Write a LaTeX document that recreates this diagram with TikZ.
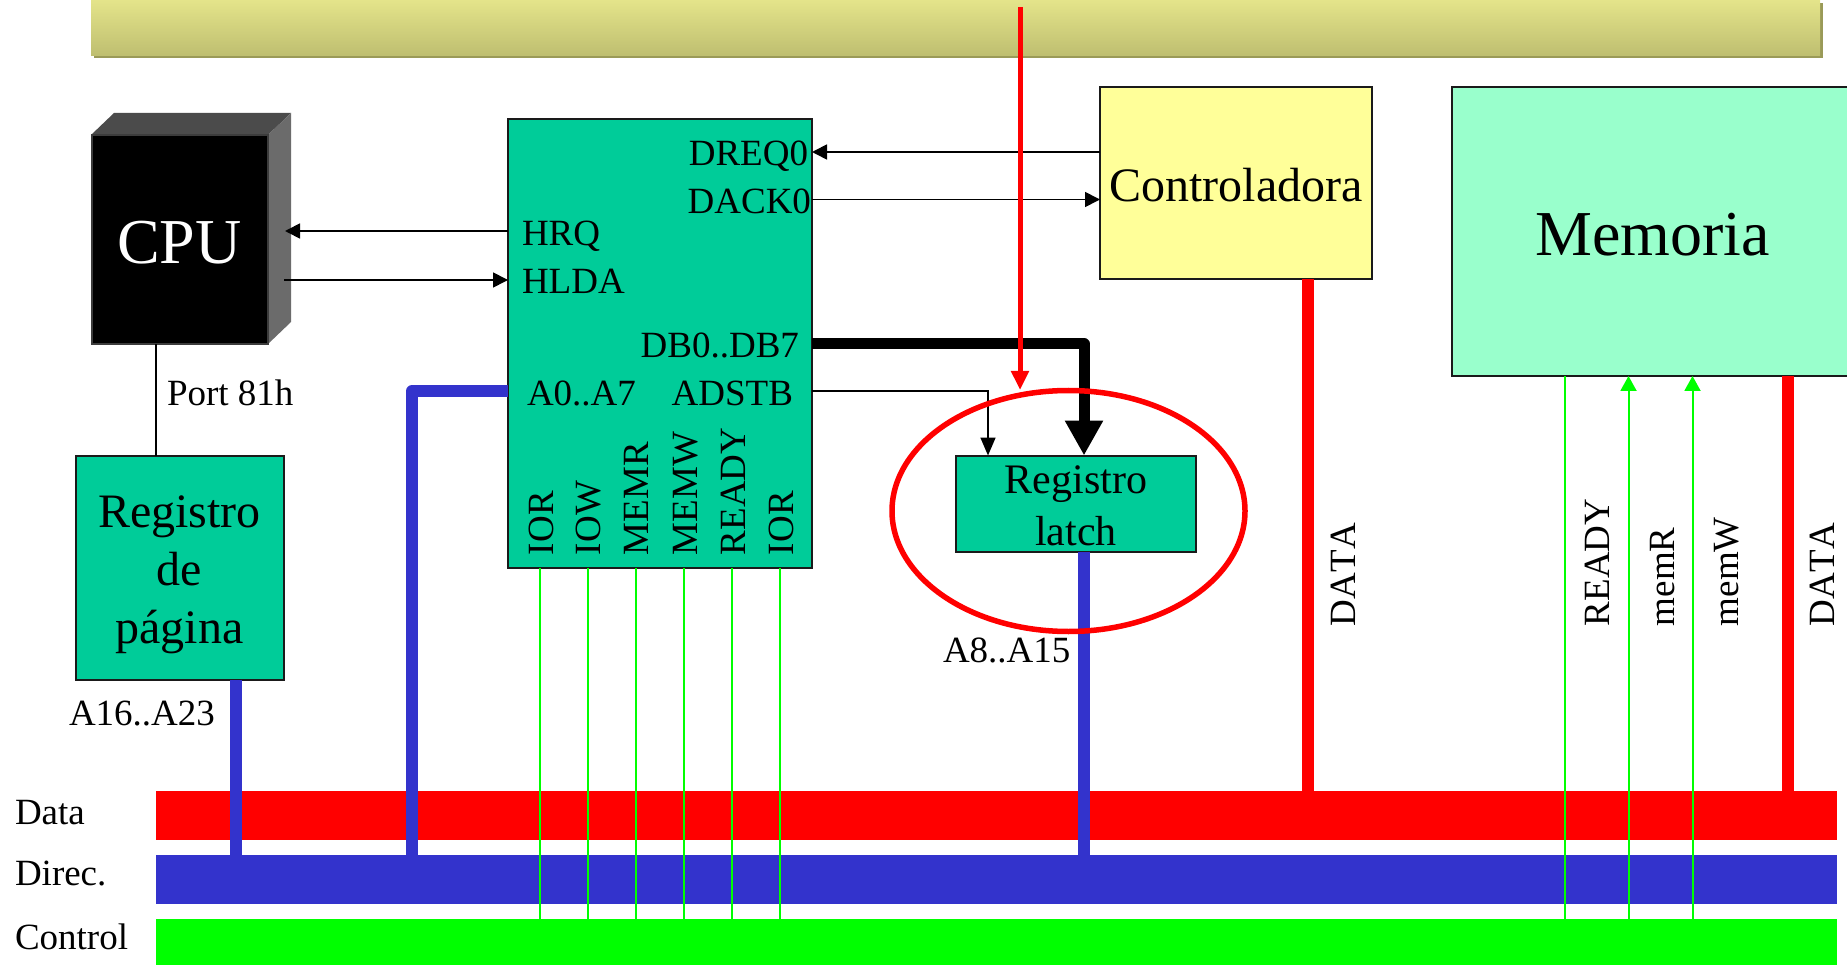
\documentclass[tikz,border=0pt]{standalone}
\usepackage{fontspec}
\setmainfont[Kerning=Off]{Liberation Serif}
\usetikzlibrary{arrows.meta,shapes.geometric}
\definecolor{teal1}{HTML}{00CC99}
\definecolor{yel1}{HTML}{FFFF99}
\definecolor{mem1}{HTML}{99FFCC}
\definecolor{blue1}{HTML}{3333CC}
\definecolor{edge1}{HTML}{1A1A1A}
\tikzset{
  plain/.style={inner sep=0pt,outer sep=0pt,minimum size=0pt},
  fs/.style={font=\fontsize{#1}{#1}\selectfont},
  boxed/.style={plain,draw=edge1,line width=2pt,align=center},
  lbl/.style={plain,fs=37,anchor=base west},
  lblr/.style={plain,fs=37,anchor=base east},
  vlbl/.style={plain,fs=37,anchor=base west,rotate=90},
  busbar/.style={plain},
  thin1/.style={line width=1.7pt,draw=black,-{Triangle[length=15pt,width=15pt]}},
  thinline/.style={line width=1.7pt,draw=black},
  gline/.style={line width=2pt,draw=green},
  garrow/.style={line width=2pt,draw=green,-{Triangle[length=15pt,width=16pt,fill=green]}},
  blueb/.style={line width=12pt,draw=blue1,line join=round},
  redb/.style={line width=12pt,draw=red},
}
\begin{document}
\begin{tikzpicture}[x=1pt,y=-1pt]
\useasboundingbox (0,0) rectangle (1847,965);
% top bar
\fill[color={rgb,255:red,154;green,154;blue,88}] (94,3) rectangle (1823,58);
\node[plain,minimum width=1729pt,minimum height=56pt,top color={rgb,255:red,228;green,228;blue,138},bottom color={rgb,255:red,190;green,190;blue,112}] (bar) at (955.5,28) {};
% buses
\node[busbar,fill=red,minimum width=1681pt,minimum height=49pt] (busD) at (996.5,815.5) {};
\node[busbar,fill=blue1,minimum width=1681pt,minimum height=49pt] (busA) at (996.5,879.5) {};
\node[busbar,fill=green,minimum width=1681pt,minimum height=46pt] (busC) at (996.5,942) {};
\node[lbl] (tData) at (15,824) {Data};
\node[lbl] (tDirec) at (15,885) {Direc.};
\node[lbl] (tControl) at (15,949) {Control};
% CPU
\fill[color={rgb,255:red,75;green,75;blue,75}] (91,135) -- (114,113) -- (291,113) -- (268,135) -- cycle;
\fill[color={rgb,255:red,107;green,107;blue,107}] (268,135) -- (291,113) -- (291,322) -- (268,344) -- cycle;
\node[plain,fill=black,draw={rgb,255:red,60;green,60;blue,60},line width=2pt,text=white,fs=64,minimum width=176pt,text height=129pt,text depth=80pt] (cpu) at (179.5,239.5) {CPU};
% boxes
\node[boxed,fill=teal1,minimum width=304pt,minimum height=449pt] (dma) at (660,343.5) {};
\node[boxed,fill=yel1,fs=48,minimum width=272pt,text height=115pt,text depth=77pt] (ctrl) at (1236,183) {Controladora};
\node[boxed,fill=mem1,fs=64,minimum width=401pt,text height=169pt,text depth=120pt] (mem) at (1652.5,231.5) {Memoria};
\node[boxed,fill=teal1,minimum width=208pt,minimum height=224pt] (pag) at (180,567.5) {};
\node[plain,fs=48,align=center] (pagT) at (179.5,574.5) {Registro\\[10pt]de\\[10pt]página};
\node[boxed,fill=teal1,minimum width=240pt,minimum height=96pt] (latch) at (1076,503.5) {};
\node[plain,fs=42,align=center] (latchT) at (1076,506) {Registro\\[10pt]latch};
% coordinates for connectors
\coordinate (dreq) at (812,152);
\coordinate (dack) at (812,199.5);
\coordinate (hrqEnd) at (285,231);
\coordinate (hldaStart) at (284,280);
\coordinate (addr) at (412,391);
\coordinate (db) at (1084,344);
\coordinate (adstb) at (988,391);
\coordinate (redTop) at (1020,7);
\coordinate (redTip) at (1020,390);
\coordinate (portX) at (156,400);
\coordinate (dataX) at (1308,800);
\coordinate (memData) at (1788,800);
\coordinate (pagX) at (236,800);
% thin connectors
\draw[thin1] (ctrl.west |- dreq) -- (dma.east |- dreq);
\draw[thin1] (dma.east |- dack) -- (ctrl.west |- dack);
\draw[thin1] (dma.west |- hrqEnd) -- (hrqEnd);
\draw[thin1] (hldaStart) -- (dma.west |- hldaStart);
\draw[thinline] (portX |- cpu.south) -- (portX |- pag.north);
\draw[thin1,-{Triangle[length=18pt,width=15pt]}] (dma.east |- adstb) -- (adstb) -- (adstb |- latch.north);
% data and address
\draw[line width=11pt,draw=black,line join=round,-{Triangle[length=35pt,width=36pt]}] (dma.east |- db) -- (db) -- (db |- latch.north);
\draw[redb] (dataX |- ctrl.south) -- (dataX |- busD.north);
\draw[redb] (memData |- mem.south) -- (memData |- busD.north);
\draw[blueb] (pagX |- pag.south) -- (pagX |- busA.north);
\draw[blueb] (dma.west |- addr) -- (addr) -- (addr |- busA.north);
\draw[blueb] (db |- latch.south) -- (db |- busA.north);
% green lines
\foreach \n/\x in {1/540,2/588,3/636,4/684,5/732,6/780}{
  \coordinate (g\n) at (\x,919);
  \draw[gline] (g\n |- dma.south) -- (g\n |- busC.north);
}
\coordinate (gReady) at (1564.5,919);
\coordinate (gR) at (1628.5,919);
\coordinate (gW) at (1692.5,919);
\draw[gline] (gReady |- busC.north) -- (gReady |- mem.south);
\draw[garrow] (gR |- busC.north) -- (gR |- mem.south);
\draw[garrow] (gW |- busC.north) -- (gW |- mem.south);
% DMA labels
\node[lblr] (dreq0) at (808,166) {DREQ0};
\node[lblr] (dack0) at (811,214) {DACK0};
\node[lbl] (hrq) at (522,246) {HRQ};
\node[lbl] (hlda) at (522,294) {HLDA};
\node[lblr] (db07) at (799,358) {DB0..DB7};
\node[lbl] (a07) at (527,406) {A0..A7};
\node[lblr] (adstbT) at (793,406) {ADSTB};
\node[vlbl] (v1) at (553,555) {IOR};
\node[vlbl] (v2) at (600,555) {IOW};
\node[vlbl] (v3) at (648,555) {MEMR};
\node[vlbl] (v4) at (697,555) {MEMW};
\node[vlbl] (v5) at (745,555) {READY};
\node[vlbl] (v6) at (793,555) {IOR};
% other labels
\node[lbl] (port) at (167,406) {Port 81h};
\node[lbl] (a1623) at (69,725) {A16..A23};
\node[lbl] (a815) at (943,662) {A8..A15};
\node[vlbl] (vData) at (1355,626) {DATA};
\node[vlbl] (vReady) at (1609,626) {READY};
\node[vlbl] (vmemR) at (1674,626) {memR};
\node[vlbl] (vmemW) at (1738,626) {memW};
\node[vlbl] (vData2) at (1834,626) {DATA};
% highlight
\node[plain,draw=red,line width=5.5pt,ellipse,minimum width=353pt,minimum height=241pt] (circ) at (1068.5,511) {};
\draw[line width=5pt,draw=red,-{Triangle[length=19pt,width=17pt]}] (redTop) -- (redTip);
\end{tikzpicture}
\end{document}
